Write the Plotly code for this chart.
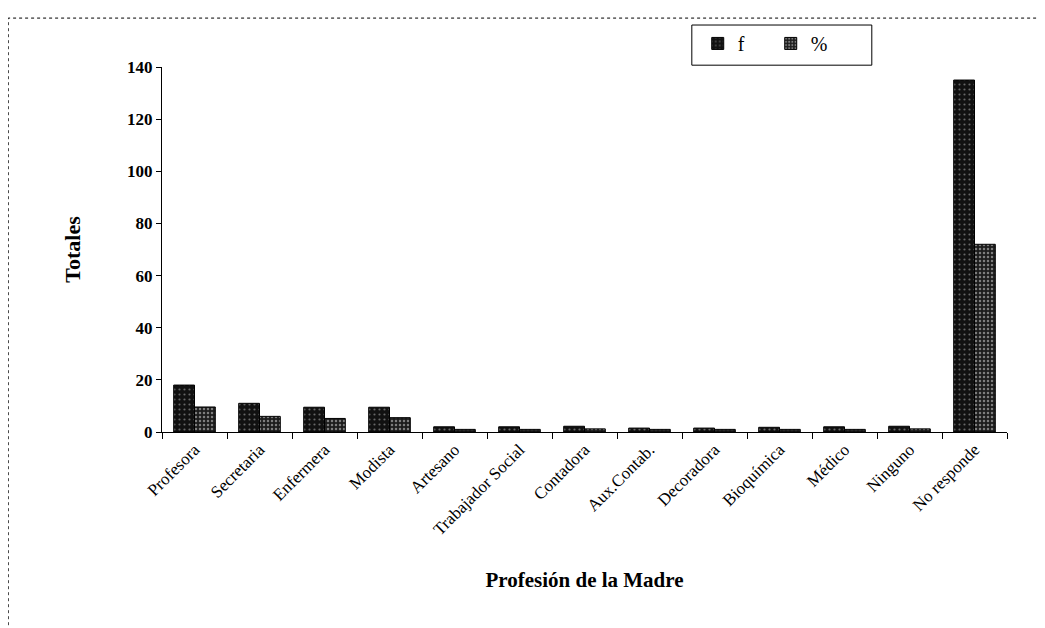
import plotly.graph_objects as go

# Profesión de la Madre - totales
categorias = ['Profesora', 'Secretaria', 'Enfermera', 'Modista', 'Artesano',
              'Trabajador Social', 'Contadora', 'Aux.Contab.', 'Decoradora',
              'Bioquímica', 'Médico', 'Ninguno', 'No responde']
frecuencia = [18, 11, 9.5, 9.5, 2, 2, 2.2, 1.5, 1.5, 1.8, 2, 2.2, 135]
porcentaje = [9.6, 6, 5.2, 5.5, 1, 1, 1.2, 1, 1, 1, 1, 1.2, 72]

serie_f = 'f'
serie_pct = '%'

font_serif = 'Liberation Serif, Times New Roman, serif'

fig = go.Figure()

fig.add_trace(go.Bar(
    x=categorias, y=frecuencia, name=serie_f,
    marker=dict(color='#111111', line=dict(color='#000000', width=1),
                pattern=dict(shape='.', fgcolor='#bbbbbb', bgcolor='#111111',
                             size=5, solidity=0.15)),
))
fig.add_trace(go.Bar(
    x=categorias, y=porcentaje, name=serie_pct,
    marker=dict(color='#1c1c1c', line=dict(color='#000000', width=1),
                pattern=dict(shape='.', fgcolor='#dddddd', bgcolor='#1c1c1c',
                             size=4, solidity=0.3)),
))

fig.update_layout(
    width=1045, height=628,
    margin=dict(l=154, r=46, t=59, b=204, autoexpand=False),
    paper_bgcolor='white', plot_bgcolor='white',
    barmode='group', bargap=0.36, bargroupgap=0,
    font=dict(family=font_serif, color='black', size=14),
    showlegend=True,
    legend=dict(
        orientation='h', x=0.634, y=1.118, xanchor='left', yanchor='top',
        borderwidth=0, bgcolor='rgba(0,0,0,0)',
        font=dict(size=20, family=font_serif),
        entrywidthmode='pixels', entrywidth=28,
    ),
    xaxis=dict(
        showline=True, linecolor='black', linewidth=1,
        ticks='outside', tickson='boundaries', ticklen=6, tickcolor='black',
        tickangle=-45, tickfont=dict(size=17, family=font_serif),
        showgrid=False,
        title=dict(text='<b>Profesión de la Madre</b>', font=dict(size=21), standoff=34),
    ),
    yaxis=dict(
        range=[0, 140], dtick=20,
        showline=True, linecolor='black', linewidth=1,
        ticks='outside', ticklen=5, tickcolor='black',
        tickfont=dict(size=17, family=font_serif, weight='bold'),
        showgrid=False, zeroline=False,
        title=dict(text='<b>Totales</b>', font=dict(size=22), standoff=40),
    ),
    shapes=[
        dict(type='rect', xref='paper', yref='paper',
             x0=-0.182, x1=1.06, y0=-0.6, y1=1.134,
             line=dict(color='black', width=1, dash='dot')),
        dict(type='rect', xref='paper', yref='paper',
             x0=0.627, x1=0.840, y0=1.005, y1=1.115,
             line=dict(color='black', width=1)),
    ],
)

fig.write_html('out.html')
